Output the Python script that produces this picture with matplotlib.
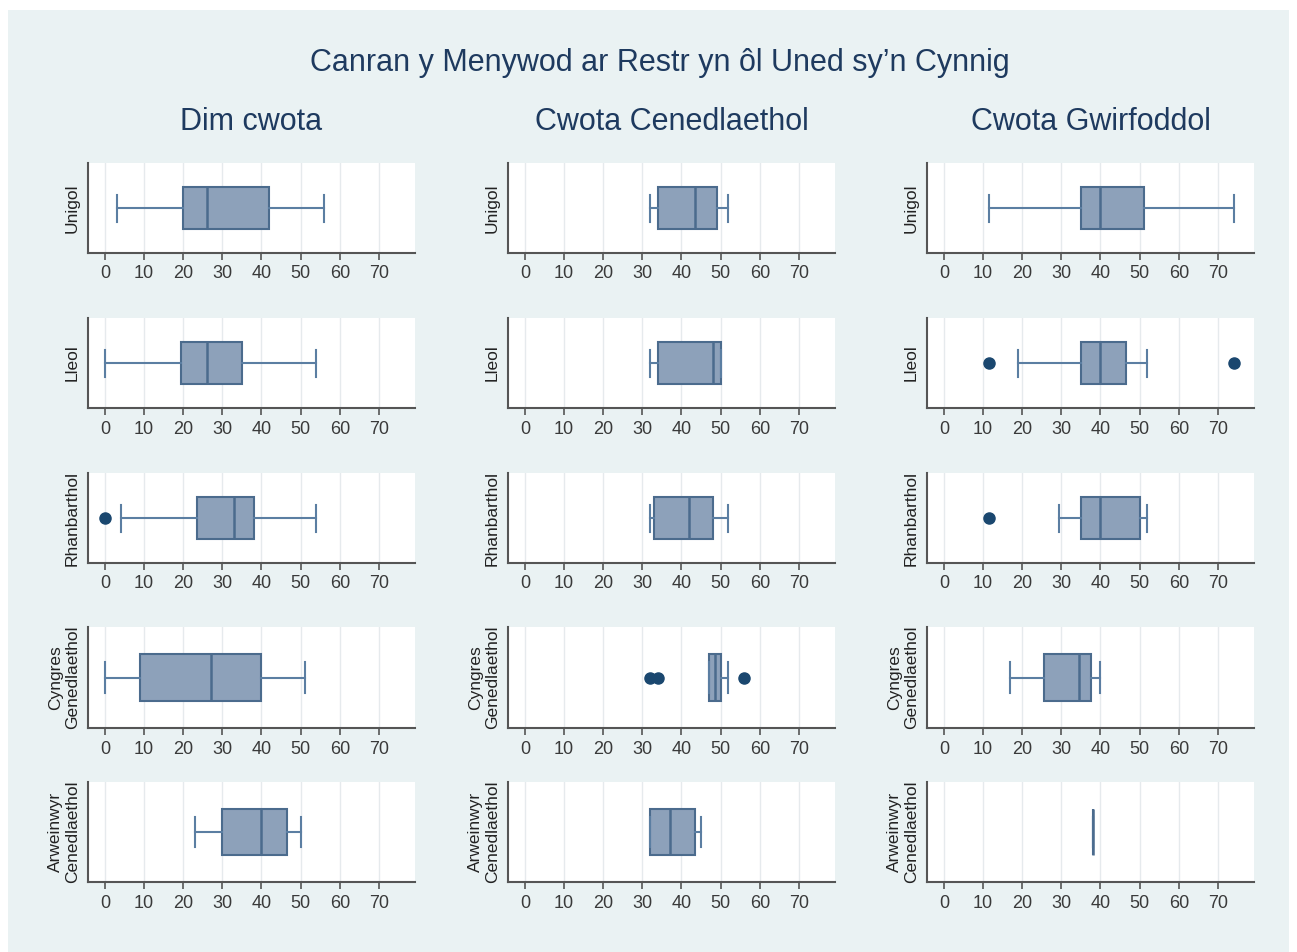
import matplotlib
matplotlib.use("Agg")
import matplotlib.pyplot as plt
from matplotlib.patches import Rectangle

plt.rcParams['font.family'] = ['Liberation Sans', 'DejaVu Sans']

# ------------- DATA -------------
title = "Canran y Menywod ar Restr yn ôl Uned sy’n Cynnig"
col_titles = ['Dim cwota', 'Cwota Cenedlaethol', 'Cwota Gwirfoddol']
row_labels = ['Unigol', 'Lleol', 'Rhanbarthol', 'Cyngres\nGenedlaethol', 'Arweinwyr\nCenedlaethol']
xticks = [0, 10, 20, 30, 40, 50, 60, 70]

# (whisker low, q1, median, q3, whisker high) for each row
dim_cwota = [(3, 20, 26, 42, 56),
             (0, 19.5, 26, 35, 54),
             (4, 23.5, 33, 38, 54),
             (0, 9, 27, 40, 51),
             (23, 30, 40, 46.5, 50)]
dim_cwota_out = [[], [], [0], [], []]

cwota_cened = [(32, 34, 43.5, 49, 52),
               (32, 34, 48, 50, 50),
               (32, 33, 42, 48, 52),
               (47, 47, 48.5, 50, 52),
               (32, 32, 37, 43.5, 45)]
cwota_cened_out = [[], [], [], [32, 34, 56], []]

cwota_gwirf = [(11.5, 35, 40, 51, 74),
               (19, 35, 40, 46.5, 52),
               (29.5, 35, 40, 50, 52),
               (17, 25.5, 34.5, 37.5, 40),
               (38, 38, 38, 38, 38)]
cwota_gwirf_out = [[], [11.5, 74], [11.5], [], []]

columns = [(dim_cwota, dim_cwota_out),
           (cwota_cened, cwota_cened_out),
           (cwota_gwirf, cwota_gwirf_out)]
# --------------------------------

W, H = 1297, 952
bg = '#EAF2F3'
navy = '#1E3A5F'
box_fill = '#8DA1BA'
box_edge = '#4B6B8D'
whisk_col = '#5B7EA2'
dot_col = '#1A476F'

fig = plt.figure(figsize=(W / 100, H / 100), dpi=100, facecolor='white')
fig.patches.append(Rectangle((8 / W, 0), (W - 16) / W, (H - 10) / H,
                             transform=fig.transFigure, facecolor=bg,
                             edgecolor='none', zorder=-10))

fig.text(660 / W, 1 - 63 / H, title, ha='center', va='center',
         fontsize=22, color=navy)

col_left = [88, 508, 927]
col_width = 327
row_top = [163, 318, 473, 627, 782]
row_bot = [253, 408, 563, 728, 882]

for c, (stats, outs) in enumerate(columns):
    x0 = col_left[c]
    fig.text((x0 + col_width / 2) / W, 1 - 122 / H, col_titles[c],
             ha='center', va='center', fontsize=22, color=navy)
    for r in range(5):
        top, bot = row_top[r], row_bot[r]
        ax = fig.add_axes([x0 / W, 1 - bot / H, col_width / W, (bot - top) / H])
        ax.set_facecolor('white')
        lo, q1, med, q3, hi = stats[r]
        bstat = [dict(whislo=lo, q1=q1, med=med, q3=q3, whishi=hi,
                      fliers=outs[r])]
        ax.bxp(bstat, positions=[1], widths=0.92, capwidths=0.6,
               orientation='horizontal', patch_artist=True,
               boxprops=dict(facecolor=box_fill, edgecolor=box_edge, linewidth=1.5),
               medianprops=dict(color=box_edge, linewidth=1.8),
               whiskerprops=dict(color=whisk_col, linewidth=1.5),
               capprops=dict(color=whisk_col, linewidth=1.5),
               flierprops=dict(marker='o', markerfacecolor=dot_col,
                               markeredgecolor=dot_col, markersize=8))
        ax.set_ylim(0, 2)
        ax.set_xlim(-4.3, 79.2)
        ax.set_yticks([])
        ax.set_xticks(xticks)
        ax.set_xticklabels([str(t) for t in xticks])
        ax.grid(axis='x', color='#E6EAED', linewidth=1)
        ax.set_axisbelow(True)
        for s in ['top', 'right']:
            ax.spines[s].set_visible(False)
        for s in ['left', 'bottom']:
            ax.spines[s].set_color('#555555')
            ax.spines[s].set_linewidth(1.5)
        ax.tick_params(axis='x', length=5, width=1.2, color='#555555',
                       labelsize=13, labelcolor='#3A3A3A', pad=4)
        ax.set_ylabel(row_labels[r], fontsize=12.5, color='#222222',
                      labelpad=6, linespacing=1.15)

fig.savefig('out.png', dpi=100, facecolor=fig.get_facecolor())
